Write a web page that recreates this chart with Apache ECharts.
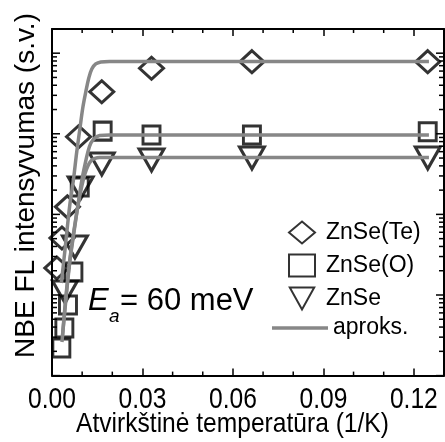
<!DOCTYPE html>
<html>
<head>
<meta charset="utf-8">
<script src="https://cdn.jsdelivr.net/npm/echarts@6/dist/echarts.min.js"></script>
<style>
  html, body { margin: 0; padding: 0; background: #fff; }
  #chart { width: 445px; height: 442px; }
</style>
</head>
<body>
<div id="chart"></div>
<script>
// Inverse temperature 1/T (1/K) and NBE photoluminescence intensity (arb. units)
const znseTeX = [0.1246, 0.0663, 0.0330, 0.0165, 0.0088, 0.0051, 0.0033, 0.0016];
const znseTeY = [7850, 7850, 6500, 3330, 920, 124, 51, 21.6];

const znseOX = [0.1246, 0.0663, 0.0330, 0.0168, 0.0092, 0.0071, 0.0053, 0.0041, 0.0031];
const znseOY = [1062, 966, 966, 1080, 219, 19.3, 7.5, 3.9, 2.2];

const znseX = [0.1246, 0.0663, 0.0330, 0.0165, 0.0095, 0.0076, 0.0043];
const znseY = [501, 501, 473, 422, 213, 39.4, 10.9];

// Approximation curves (Ea = 60 meV), sampled along each curve
const fitTeX = [0.0031, 0.0043, 0.0059, 0.0071, 0.0082, 0.0092, 0.0102, 0.0112, 0.0122, 0.0132, 0.0145, 0.0162, 0.0191, 0.125];
const fitTeY = [14.1, 36.2, 131, 267, 594, 1115, 2090, 3302, 4923, 6368, 7345, 7780, 7889, 7889];

const fitOX = [0.0033, 0.0046, 0.0059, 0.0073, 0.0086, 0.0099, 0.0109, 0.0119, 0.0129, 0.0142, 0.0158, 0.0191, 0.125];
const fitOY = [2.61, 8.67, 25.7, 60.5, 131, 267, 410, 594, 769, 887, 953, 966, 966];

const fitX = [0.0035, 0.0046, 0.0059, 0.0073, 0.0086, 0.0099, 0.0109, 0.0119, 0.0129, 0.0142, 0.0158, 0.125];
const fitY = [3.19, 9.45, 27.2, 64.0, 127, 225, 317, 399, 460, 494, 508, 508];

// Axis ranges, tick labels and ticks
const xMin = 0, xMax = 0.13, xStep = 0.03;
const xTickLabels = [0.00, 0.03, 0.06, 0.09, 0.12];
const xMinorTicks = [0.01, 0.02, 0.04, 0.05, 0.07, 0.08, 0.10, 0.11];
const yMin = 1, yMax = 19953;
const yMajorTicks = [1, 10, 100, 1000, 10000];
const yMinorTicks = [];
for (const d of [1, 10, 100, 1000]) {
  for (const m of [2, 3, 4, 5, 6, 7, 8, 9]) yMinorTicks.push(m * d);
}

const regular = '"Liberation Sans", Arial, sans-serif';
const narrowScale = 0.82; // horizontally condensed lettering for the x axis

const pairs = (xs, ys) => xs.map((x, i) => [x, ys[i]]);

const markerStyle = { color: 'rgba(0,0,0,0)', borderColor: '#000', borderWidth: 3 };
const fitColor = '#878787';
const fitStyle = { color: fitColor, width: 3.5 };

// Ticks on the left/right frame (log scale)
function yTickRender(params, api) {
  const cs = params.coordSys;
  const y = api.coord([xMin, api.value(1)])[1];
  const len = api.value(2);
  const st = { stroke: '#000', lineWidth: 1.5 };
  return {
    type: 'group',
    children: [
      { type: 'line', shape: { x1: cs.x, y1: y, x2: cs.x + len, y2: y }, style: st },
      { type: 'line', shape: { x1: cs.x + cs.width, y1: y, x2: cs.x + cs.width - len, y2: y }, style: st }
    ]
  };
}
// Minor ticks on the top/bottom frame
function xTickRender(params, api) {
  const cs = params.coordSys;
  const x = api.coord([api.value(0), yMin])[0];
  const len = api.value(2);
  const st = { stroke: '#000', lineWidth: 1.5 };
  return {
    type: 'group',
    children: [
      { type: 'line', shape: { x1: x, y1: cs.y + cs.height, x2: x, y2: cs.y + cs.height - len }, style: st },
      { type: 'line', shape: { x1: x, y1: cs.y, x2: x, y2: cs.y + len }, style: st }
    ]
  };
}
// Condensed tick labels under the x axis
function xLabelRender(params, api) {
  const cs = params.coordSys;
  const v = api.value(0);
  const x = api.coord([v, yMin])[0];
  return {
    type: 'text', x: x, y: cs.y + cs.height + 24, scaleX: narrowScale,
    style: { text: v.toFixed(2), font: '30px ' + regular, fill: '#000', align: 'center', verticalAlign: 'middle' }
  };
}

const xAxisBase = {
  type: 'value', min: xMin, max: xMax, interval: xStep,
  axisLine: { onZero: false, lineStyle: { color: '#000', width: 2 } },
  axisTick: { inside: true, length: 7, lineStyle: { color: '#000', width: 1.5 } },
  axisLabel: { show: false },
  splitLine: { show: false }
};
const yAxisBase = {
  type: 'log', logBase: 10, min: yMin, max: yMax,
  axisLine: { onZero: false, lineStyle: { color: '#000', width: 2 } },
  axisTick: { show: false },
  axisLabel: { show: false },
  splitLine: { show: false },
  minorTick: { show: false }
};

const chart = echarts.init(document.getElementById('chart'), null, { renderer: 'canvas' });
chart.setOption({
  animation: false,
  backgroundColor: '#fff',
  grid: { left: 52, right: 1, top: 29, bottom: 66.4 },
  xAxis: [
    Object.assign({}, xAxisBase, { position: 'bottom' }),
    Object.assign({}, xAxisBase, { position: 'top' })
  ],
  yAxis: [
    Object.assign({}, yAxisBase, { position: 'left' }),
    Object.assign({}, yAxisBase, { position: 'right' })
  ],
  legend: [
    {
      data: [
        { name: 'ZnSe(Te)' },
        { name: 'ZnSe(O)' },
        { name: 'ZnSe', icon: 'path://M0,0 L20,0 L10,18 Z' }
      ],
      orient: 'vertical',
      left: 283, top: 215.5,
      itemWidth: 26, itemHeight: 22, itemGap: 9,
      textStyle: { fontSize: 23, fontFamily: regular, color: '#000', padding: [0, 0, 0, 6] },
      selectedMode: false
    },
    {
      data: [{ name: 'aproks.', icon: 'rect', itemStyle: { color: fitColor, borderWidth: 0 } }],
      orient: 'vertical',
      left: 267, top: 311.5,
      itemWidth: 56, itemHeight: 3.5,
      textStyle: { fontSize: 23, fontFamily: regular, color: '#000' },
      selectedMode: false
    }
  ],
  graphic: [
    {
      type: 'text', x: 26, y: 185.5, rotation: Math.PI / 2,
      style: { text: 'NBE FL intensyvumas (s.v.)', font: '28px ' + regular, fill: '#000', align: 'center', verticalAlign: 'middle' }
    },
    {
      type: 'text', x: 232.5, y: 424, scaleX: 0.878,
      style: { text: 'Atvirkštinė temperatūra (1/K)', font: '28px ' + regular, fill: '#000', align: 'center', verticalAlign: 'middle' }
    },
    {
      type: 'text', x: 88, y: 301.5,
      style: { text: 'E', font: 'italic 31px ' + regular, fill: '#000', align: 'left', verticalAlign: 'middle' }
    },
    {
      type: 'text', x: 109, y: 317,
      style: { text: 'a', font: 'italic 19px ' + regular, fill: '#000', align: 'left', verticalAlign: 'middle' }
    },
    {
      type: 'text', x: 120, y: 301.5,
      style: { text: '= 60 meV', font: '31px ' + regular, fill: '#000', align: 'left', verticalAlign: 'middle' }
    }
  ],
  series: [
    {
      type: 'custom', renderItem: yTickRender, silent: true, z: 1,
      encode: { x: 0, y: 1 },
      data: yMajorTicks.map(v => [xMin, v, 8]).concat(yMinorTicks.map(v => [xMin, v, 5]))
    },
    {
      type: 'custom', renderItem: xTickRender, silent: true, z: 1,
      encode: { x: 0, y: 1 },
      data: xMinorTicks.map(v => [v, yMin, 4])
    },
    {
      type: 'custom', renderItem: xLabelRender, silent: true, z: 1, clip: false,
      encode: { x: 0, y: 1 },
      data: xTickLabels.map(v => [v, yMin])
    },
    {
      name: 'ZnSe(Te)', type: 'scatter', symbol: 'diamond', symbolSize: [24, 22],
      itemStyle: markerStyle, data: pairs(znseTeX, znseTeY), z: 2
    },
    {
      name: 'ZnSe(O)', type: 'scatter', symbol: 'rect', symbolSize: [17, 18],
      itemStyle: markerStyle, data: pairs(znseOX, znseOY), z: 2
    },
    {
      name: 'ZnSe', type: 'scatter', symbol: 'triangle', symbolRotate: 180, symbolSize: [25, 22],
      itemStyle: markerStyle, data: pairs(znseX, znseY), z: 2
    },
    {
      name: 'aproks.', type: 'line', showSymbol: false, symbol: 'none', smooth: 0.35,
      lineStyle: fitStyle, itemStyle: { color: fitColor }, data: pairs(fitTeX, fitTeY), z: 3
    },
    {
      name: 'aproks.', type: 'line', showSymbol: false, symbol: 'none', smooth: 0.35,
      lineStyle: fitStyle, itemStyle: { color: fitColor }, data: pairs(fitOX, fitOY), z: 3
    },
    {
      name: 'aproks.', type: 'line', showSymbol: false, symbol: 'none', smooth: 0.35,
      lineStyle: fitStyle, itemStyle: { color: fitColor }, data: pairs(fitX, fitY), z: 3
    }
  ]
});
</script>
</body>
</html>
